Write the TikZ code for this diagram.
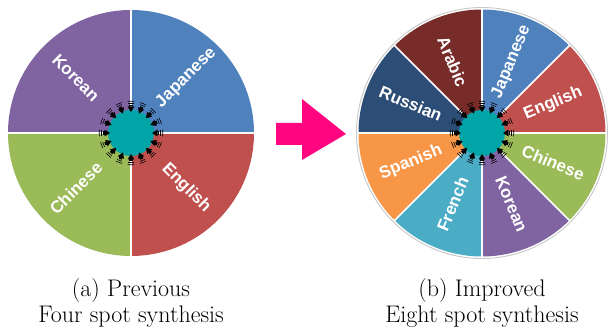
\documentclass[tikz,border=0pt]{standalone}
\usepackage{fontspec}
\newfontfamily\wheelfont{Liberation Sans}
\usetikzlibrary{calc}
\definecolor{jpblue}{HTML}{4F81BD}
\definecolor{enred}{HTML}{C0504D}
\definecolor{zhgreen}{HTML}{9BBB59}
\definecolor{kopurple}{HTML}{8064A2}
\definecolor{arred}{HTML}{772C2A}
\definecolor{rublue}{HTML}{2C4D75}
\definecolor{esorange}{HTML}{F79646}
\definecolor{frcyan}{HTML}{4BACC6}
\definecolor{hubteal}{HTML}{00A5A8}
\definecolor{arrowpink}{HTML}{FF0680}
\tikzset{
  lang/.style={text=white, font=\wheelfont\bfseries\fontsize{17}{17}\selectfont, inner sep=0pt},
  captext/.style={align=center, font=\fontsize{24}{26}\selectfont, inner sep=0pt},
  sepline/.style={white, line width=1.5pt},
}
\newcommand{\speakerring}[1]{%
  \fill[hubteal] (#1) circle (23);
  \foreach \a in {0,22.5,...,337.5}{
    \begin{scope}[shift={(#1)}, rotate=\a]
      \fill[black] (21,0) -- (26.5,3.4) -- (26.5,-3.4) -- cycle;
      \fill[black] (26.5,-1.6) rectangle (28.2,1.6);
      \draw[black, line width=0.6pt] (0,0) ++(-5:29.8) arc (-5:5:29.8);
      \draw[black, line width=0.6pt] (0,0) ++(-6:31.8) arc (-6:6:31.8);
    \end{scope}
  }
}

\begin{document}
\begin{tikzpicture}[x=1pt,y=1pt]
  \useasboundingbox (0,0) rectangle (608,328);
  \coordinate (L) at (131,195);
  \coordinate (R) at (482,195);

  % previous wheel
  \foreach \s/\c/\t/\r in {0/jpblue/Japanese/45, 90/kopurple/Korean/-45,
                           180/zhgreen/Chinese/45, 270/enred/English/-45}{
    \fill[\c] (L) -- ++(\s:123) arc (\s:\s+90:123) -- cycle;
    \node[lang, rotate=\r] (L-\t) at ($(L)+(\s+45:78)$) {\t};
  }
  \foreach \s in {0,90,180,270}
    \draw[sepline] (L) -- ++(\s:124);
  \speakerring{L}

  % improved wheel
  \draw[black!22, line width=0.9pt] (R) circle (125.5);
  \foreach \s/\c/\t/\r in {45/jpblue/Japanese/67.5, 90/arred/Arabic/-67.5,
                           135/rublue/Russian/-22.5, 180/esorange/Spanish/22.5,
                           225/frcyan/French/67.5, 270/kopurple/Korean/-67.5,
                           315/zhgreen/Chinese/-22.5, 0/enred/English/22.5}{
    \fill[\c] (R) -- ++(\s:123.5) arc (\s:\s+45:123.5) -- cycle;
    \node[lang, rotate=\r] (R-\t) at ($(R)+(\s+22.5:77)$) {\t};
  }
  \foreach \s in {0,45,...,315}
    \draw[sepline] (R) -- ++(\s:124.5);
  \speakerring{R}

  % arrow between the wheels
  \fill[arrowpink] (276,183) -- (302,183) -- (302,168) -- (346,194)
    -- (302,229) -- (302,205) -- (276,205) -- cycle;

  \node[captext] (capL) at (131,25) {(a) Previous\\Four spot synthesis};
  \node[captext] (capR) at (482,25) {(b) Improved\\Eight spot synthesis};
\end{tikzpicture}
\end{document}
